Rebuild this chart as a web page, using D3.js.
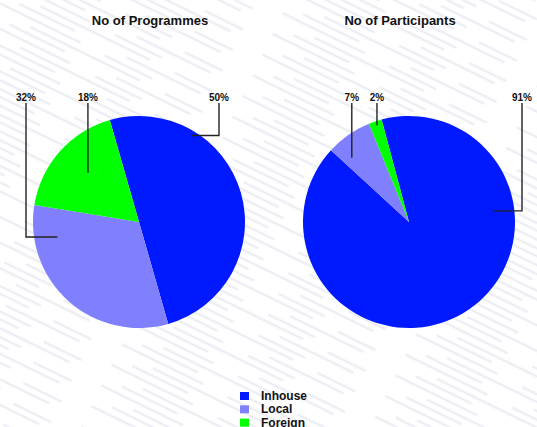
<!DOCTYPE html>
<html>
  <head>
    <script src="https://d3js.org/d3.v7.min.js"></script>
    <style>
      body { margin: 0; background: #fff; }
      text { font-family: "Liberation Sans", Arial, sans-serif; font-weight: bold; fill: #111; }
    </style>
  </head>
  <body>
    <svg id="chart" width="537" height="427"></svg>
    <script>
      // data
      const categories = ["Inhouse", "Local", "Foreign"];
      const programmes = [50, 32, 18];
      const participants = [91, 7, 2];
      const colors = ["#0019ff", "#8080ff", "#00ff00"];

      // label layout: x of the label, leader end as (angle deg, radius)
      const progLabels = [
        { x: 219, angle: 31, r: 101 },
        { x: 26, angle: 259.6, r: 83 },
        { x: null, angle: -46, r: 71 }
      ];
      const partLabels = [
        { x: 522, angle: 82.5, r: 85 },
        { x: null, angle: -41.7, r: 86 },
        { x: null, angle: -18.3, r: 102 }
      ];

      const svg = d3.select("#chart");

      // faint diagonal streaks in the background
      const defs = svg.append("defs");
      const pat = defs.append("pattern")
        .attr("id", "streaks")
        .attr("patternUnits", "userSpaceOnUse")
        .attr("width", 260).attr("height", 23)
        .attr("patternTransform", "rotate(26)");
      [[0, 3, 90], [120, 4, 50], [40, 11, 120], [190, 12, 40], [20, 18, 60], [140, 19, 80]].forEach(s => {
        pat.append("line")
          .attr("x1", s[0]).attr("x2", s[0] + s[2])
          .attr("y1", s[1]).attr("y2", s[1])
          .attr("stroke", "#d6dae6")
          .attr("stroke-width", 2.5)
          .attr("stroke-linecap", "round")
          .attr("opacity", 0.45);
      });
      svg.append("rect").attr("width", 537).attr("height", 427).attr("fill", "url(#streaks)");

      const rad = d => d * Math.PI / 180;

      function drawPie(values, labels, cx, title, titleX, startDeg) {
        const cy = 222, radius = 106;
        const g = svg.append("g").attr("transform", "translate(" + cx + "," + cy + ")");

        const pie = d3.pie().sort(null)
          .startAngle(rad(startDeg))
          .endAngle(rad(startDeg) + 2 * Math.PI);
        const arc = d3.arc().innerRadius(0).outerRadius(radius);

        g.selectAll("path.slice")
          .data(pie(values))
          .enter()
          .append("path")
          .attr("class", "slice")
          .attr("d", arc)
          .attr("fill", (d, i) => colors[i]);

        svg.append("text")
          .attr("x", titleX)
          .attr("y", 25)
          .attr("text-anchor", "middle")
          .style("font-size", "13px")
          .text(title);

        // leader lines + percent labels
        values.forEach(function(v, i) {
          const L = labels[i];
          const ex = Math.sin(rad(L.angle)) * L.r;
          const ey = -Math.cos(rad(L.angle)) * L.r;
          const lx = L.x === null ? ex : L.x - cx;
          g.append("path")
            .attr("d", "M" + lx + "," + (103 - cy) + "V" + ey + "H" + ex)
            .attr("fill", "none")
            .attr("stroke", "#222")
            .attr("stroke-width", 1.4);
          g.append("text")
            .attr("x", lx)
            .attr("y", 101 - cy)
            .attr("text-anchor", "middle")
            .style("font-size", "10px")
            .text(v + "%");
        });
      }

      drawPie(programmes, progLabels, 139, "No of Programmes", 150, -16);
      drawPie(participants, partLabels, 409, "No of Participants", 400, -15);

      // legend
      const legend = svg.append("g").attr("transform", "translate(240,392)");
      categories.forEach(function(c, i) {
        legend.append("rect")
          .attr("x", 0).attr("y", i * 13.3)
          .attr("width", 9).attr("height", 8)
          .attr("fill", colors[i]);
        legend.append("text")
          .attr("x", 21).attr("y", i * 13.3 + 8)
          .style("font-size", "12px")
          .text(c);
      });
    </script>
  </body>
</html>
